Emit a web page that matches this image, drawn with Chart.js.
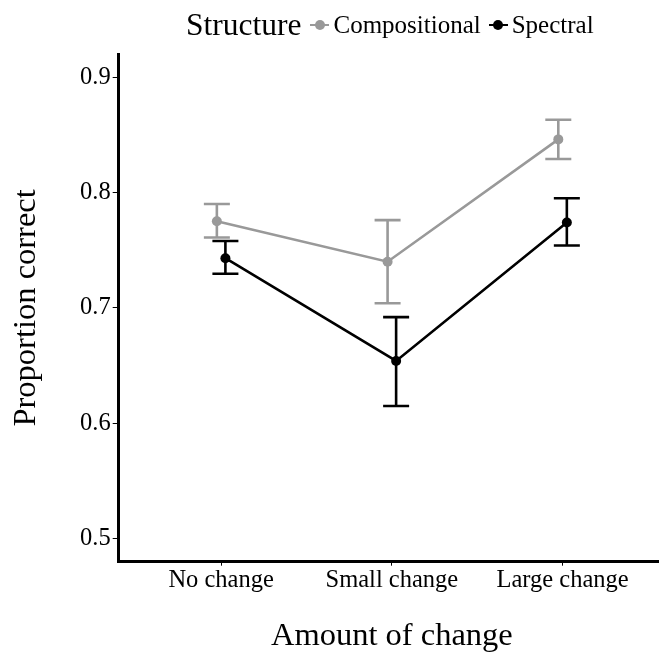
<!DOCTYPE html>
<html>
<head>
<meta charset="utf-8">
<script src="https://cdn.jsdelivr.net/npm/chart.js@4/dist/chart.umd.min.js"></script>
<style>
  html, body { margin: 0; padding: 0; background: #fff; overflow: hidden; }
  /* the panel runs a little past the right edge, so the canvas is wider than the page */
  #wrap { position: relative; width: 659px; height: 652px; overflow: hidden; }
  #chart { display: block; }
  #legend {
    position: absolute; top: 6px; left: 186px; height: 38px;
    display: flex; align-items: center;
    font-family: 'Liberation Serif', 'Times New Roman', serif; color: #000;
  }
  #legend .title { font-size: 31.5px; margin-right: 9px; }
  #legend .item { display: flex; align-items: center; font-size: 25px; margin-right: 8px; }
  #legend .key { position: relative; width: 19px; height: 11px; margin-right: 4px; }
  #legend .key .ln { position: absolute; left: 0; right: 0; top: 4.3px; height: 2.5px; }
  #legend .key .dt { position: absolute; left: 4.5px; top: 0.5px; width: 10px; height: 10px; border-radius: 50%; }
</style>
</head>
<body>
<div id="wrap">
  <canvas id="chart" width="670" height="652"></canvas>
  <div id="legend"></div>
</div>
<script>
// categories and series values
const categories = ['No change', 'Small change', 'Large change'];
const seriesNames = ['Compositional', 'Spectral'];
const seriesColors = ['#999999', '#000000'];

const compMean = [0.775, 0.740, 0.846];
const compLow  = [0.761, 0.704, 0.829];
const compHigh = [0.790, 0.776, 0.863];

const specMean = [0.743, 0.654, 0.774];
const specLow  = [0.7295, 0.615, 0.754];
const specHigh = [0.758, 0.692, 0.795];

const yTicks = [0.5, 0.6, 0.7, 0.8, 0.9];
const dodge = 0.025;

const serif = "'Liberation Serif', 'Times New Roman', serif";

function toPoints(means, shift) {
  return means.map((v, i) => ({ x: i + shift, y: v }));
}

// legend (html, same look as ggplot's top legend)
const legendEl = document.getElementById('legend');
legendEl.innerHTML = '<span class="title">Structure</span>' + seriesNames.map((name, i) =>
  `<span class="item"><span class="key"><span class="ln" style="background:${seriesColors[i]}"></span>` +
  `<span class="dt" style="background:${seriesColors[i]}"></span></span>${name}</span>`).join('');

// draws the error bars under the lines
const errorBars = {
  id: 'errorBars',
  beforeDatasetsDraw(chart) {
    const { ctx, scales: { x, y } } = chart;
    const capHalf = 13;
    chart.data.datasets.forEach((ds) => {
      ctx.save();
      ctx.strokeStyle = ds.borderColor;
      ctx.lineWidth = 2.6;
      ds.data.forEach((pt, i) => {
        const px = x.getPixelForValue(pt.x);
        const top = y.getPixelForValue(ds.high[i]);
        const bot = y.getPixelForValue(ds.low[i]);
        ctx.beginPath();
        ctx.moveTo(px, top); ctx.lineTo(px, bot);
        ctx.moveTo(px - capHalf, top); ctx.lineTo(px + capHalf, top);
        ctx.moveTo(px - capHalf, bot); ctx.lineTo(px + capHalf, bot);
        ctx.stroke();
      });
      ctx.restore();
    });
  }
};

const chart = new Chart(document.getElementById('chart'), {
  type: 'line',
  data: {
    datasets: [
      {
        label: seriesNames[0],
        data: toPoints(compMean, -dodge),
        low: compLow, high: compHigh,
        borderColor: seriesColors[0], backgroundColor: seriesColors[0],
        borderWidth: 2.6, pointRadius: 5, pointBorderWidth: 0, tension: 0,
      },
      {
        label: seriesNames[1],
        data: toPoints(specMean, dodge),
        low: specLow, high: specHigh,
        borderColor: seriesColors[1], backgroundColor: seriesColors[1],
        borderWidth: 2.6, pointRadius: 5, pointBorderWidth: 0, tension: 0,
      },
    ],
  },
  options: {
    responsive: false,
    animation: false,
    layout: { padding: { top: 54, right: 0, bottom: 0, left: 0 } },
    plugins: { legend: { display: false }, tooltip: { enabled: false } },
    scales: {
      x: {
        type: 'linear',
        min: -0.6,
        max: 2.6,
        afterBuildTicks: (s) => { s.ticks = categories.map((c, i) => ({ value: i })); },
        afterFit: (s) => { s.height = 90.3; },
        ticks: {
          callback: (v) => categories[v],
          color: '#000',
          padding: 0,
          maxRotation: 0,
          autoSkip: false,
          font: { family: serif, size: 24.5 },
        },
        grid: { drawOnChartArea: false, drawTicks: true, tickLength: 4, tickWidth: 1, color: '#000' },
        border: { display: true, color: '#000', width: 3 },
        title: {
          display: true,
          text: 'Amount of change',
          color: '#000',
          font: { family: serif, size: 32.5, lineHeight: 1 },
          padding: { top: 0, bottom: -1 },
        },
      },
      y: {
        min: 0.48,
        max: 0.92,
        afterBuildTicks: (s) => { s.ticks = yTicks.map((v) => ({ value: v })); },
        afterFit: (s) => { s.width = 118.7; },
        ticks: {
          callback: (v) => v.toFixed(1),
          color: '#000',
          padding: 2,
          font: { family: serif, size: 24.5 },
        },
        grid: { drawOnChartArea: false, drawTicks: true, tickLength: 6, tickWidth: 1, color: '#000' },
        border: { display: true, color: '#000', width: 3 },
        title: {
          display: true,
          text: 'Proportion correct',
          color: '#000',
          font: { family: serif, size: 32.5, lineHeight: 1 },
          padding: { top: 10, bottom: 0 },
        },
      },
    },
  },
  plugins: [errorBars],
});
</script>
</body>
</html>
